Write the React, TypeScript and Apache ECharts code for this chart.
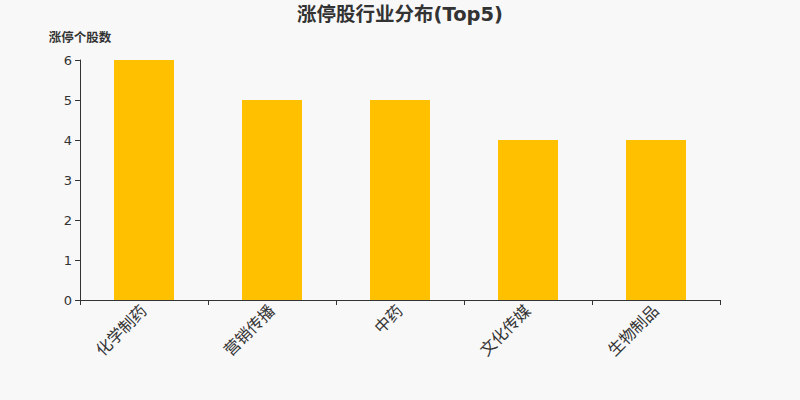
import { useEffect, useRef } from "react";
import * as echarts from "echarts";

const industries = ["化学制药", "营销传播", "中药", "文化传媒", "生物制品"];
const limitUpCounts = [6, 5, 5, 4, 4];

export default function App() {
  const chartRef = useRef<HTMLDivElement>(null);

  useEffect(() => {
    document.body.style.margin = "0";
    if (!chartRef.current) return;
    const chart = echarts.init(chartRef.current, undefined, { renderer: "svg" });
    const font = '"DejaVu Sans", "Noto Sans CJK SC", sans-serif';
    chart.setOption({
      animation: false,
      backgroundColor: "#f8f8f8",
      textStyle: { fontFamily: font },
      title: {
        text: "涨停股行业分布(Top5)",
        left: "center",
        top: 0,
        textStyle: { fontSize: 19.5, fontWeight: "bold", color: "#333", fontFamily: font },
      },
      grid: { left: 80, right: 80, top: 60, bottom: 100 },
      xAxis: {
        type: "category",
        data: industries,
        axisLine: { lineStyle: { color: "#333" } },
        axisTick: { show: true, lineStyle: { color: "#333" } },
        axisLabel: { rotate: 45, fontSize: 16, color: "#333", margin: 8 },
      },
      yAxis: {
        type: "value",
        name: "涨停个股数",
        nameGap: 16,
        nameTextStyle: { fontSize: 12.5, fontWeight: "bold", color: "#333", align: "center" },
        min: 0,
        max: 6,
        interval: 1,
        axisLine: { show: true, lineStyle: { color: "#333" } },
        axisTick: { show: true, lineStyle: { color: "#333" } },
        axisLabel: { fontSize: 13, color: "#333" },
        splitLine: { show: false },
      },
      series: [
        {
          type: "bar",
          data: limitUpCounts,
          barWidth: 60,
          itemStyle: { color: "#ffc000" },
        },
      ],
    });
    return () => chart.dispose();
  }, []);

  return <div ref={chartRef} style={{ width: 800, height: 400 }} />;
}
